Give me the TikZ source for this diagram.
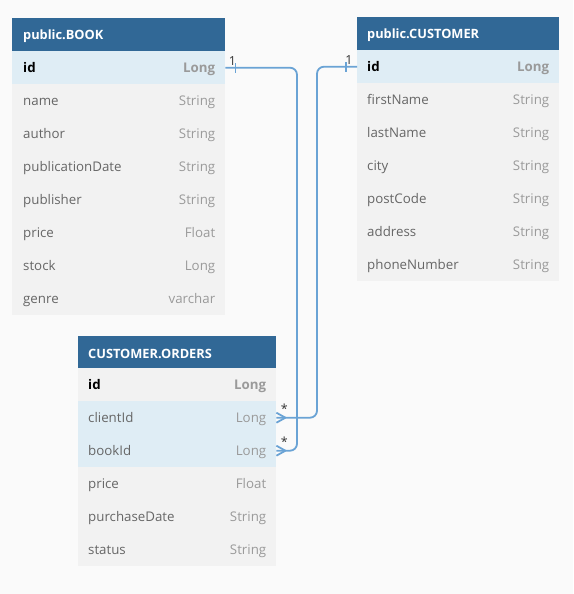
\documentclass[tikz,border=0pt]{standalone}
\usepackage{fontspec}
\setmainfont{Open Sans}
\usetikzlibrary{positioning}
\definecolor{pagebg}{HTML}{FAFAFA}
\definecolor{headblue}{HTML}{316896}
\definecolor{rowgray}{HTML}{F2F2F2}
\definecolor{rowblue}{HTML}{DFEDF5}
\definecolor{namegray}{HTML}{666666}
\definecolor{typegray}{HTML}{9A9A9A}
\definecolor{relblue}{HTML}{6AA3D5}
\tikzset{
	tblhead/.style={rectangle, fill=headblue, minimum height=33pt, inner sep=0pt, anchor=north west},
	tblrow/.style={rectangle, fill=rowgray, minimum height=33pt, inner sep=0pt, anchor=north west},
	keyrow/.style={tblrow, fill=rowblue},
	headtext/.style={anchor=west, inner sep=0pt, yshift=-1.5pt, text=white, font=\fontsize{12.8}{15}\selectfont\bfseries},
	colname/.style={anchor=west, inner sep=0pt, yshift=-1.8pt, text=namegray, text height=9pt, text depth=2.5pt, font=\fontsize{13.3}{16}\selectfont},
	coltype/.style={anchor=east, inner sep=0pt, yshift=-1.8pt, text=typegray, text height=9pt, text depth=2.5pt, font=\fontsize{13.3}{16}\selectfont},
	relline/.style={draw=relblue, line width=1.8pt},
	card/.style={inner sep=0pt, text=black!80, font=\fontsize{12.5}{14}\selectfont}
}
\newcommand{\crowfoot}[1]{\draw[relline] ([xshift=9pt]#1.east) -- ([yshift=-5pt]#1.east) ([xshift=9pt]#1.east) -- ([yshift=5pt]#1.east);}
\begin{document}
\begin{tikzpicture}[x=1pt,y=-1pt]
	\fill[pagebg] (0,0) rectangle (573,594);
	% public.BOOK
	\node[tblhead, minimum width=213pt] (book) at (12,18) {};
	\node[headtext] at ([xshift=11pt]book.west) {public.BOOK};
	\node[keyrow, minimum width=213pt] (book-id) at (12,51) {};
	\node[colname, text=black, font=\fontsize{13.3}{16}\selectfont\bfseries] at ([xshift=11pt]book-id.west) {id};
	\node[coltype, font=\fontsize{13.3}{16}\selectfont\bfseries] at ([xshift=-10pt]book-id.east) {Long};
	\foreach \fname/\ftype [count=\i] in {name/String, author/String, publicationDate/String, publisher/String, price/Float, stock/Long, genre/varchar} {
		\node[tblrow, minimum width=213pt] (book-\fname) at (12,51+33*\i) {};
		\node[colname] at ([xshift=11pt]book-\fname.west) {\fname};
		\node[coltype] at ([xshift=-10pt]book-\fname.east) {\ftype};
	}
	% public.CUSTOMER
	\node[tblhead, minimum width=202pt] (customer) at (357,17) {};
	\node[headtext] at ([xshift=10pt]customer.west) {public.CUSTOMER};
	\node[keyrow, minimum width=202pt] (customer-id) at (357,50) {};
	\node[colname, text=black, font=\fontsize{13.3}{16}\selectfont\bfseries] at ([xshift=10pt]customer-id.west) {id};
	\node[coltype, font=\fontsize{13.3}{16}\selectfont\bfseries] at ([xshift=-10pt]customer-id.east) {Long};
	\foreach \fname/\ftype [count=\i] in {firstName/String, lastName/String, city/String, postCode/String, address/String, phoneNumber/String} {
		\node[tblrow, minimum width=202pt] (customer-\fname) at (357,50+33*\i) {};
		\node[colname] at ([xshift=10pt]customer-\fname.west) {\fname};
		\node[coltype] at ([xshift=-10pt]customer-\fname.east) {\ftype};
	}
	% CUSTOMER.ORDERS
	\node[tblhead, minimum width=198pt, minimum height=32pt] (orders) at (78,336) {};
	\node[headtext] at ([xshift=10pt]orders.west) {CUSTOMER.ORDERS};
	\node[tblrow, minimum width=198pt] (orders-id) at (78,368) {};
	\node[colname, text=black, font=\fontsize{13.3}{16}\selectfont\bfseries] at ([xshift=10pt]orders-id.west) {id};
	\node[coltype, font=\fontsize{13.3}{16}\selectfont\bfseries] at ([xshift=-10pt]orders-id.east) {Long};
	\foreach \fname/\ftype/\rowstyle [count=\i] in {clientId/Long/keyrow, bookId/Long/keyrow, price/Float/tblrow, purchaseDate/String/tblrow, status/String/tblrow} {
		\node[\rowstyle, minimum width=198pt] (orders-\fname) at (78,368+33*\i) {};
		\node[colname] at ([xshift=10pt]orders-\fname.west) {\fname};
		\node[coltype] at ([xshift=-10pt]orders-\fname.east) {\ftype};
	}
	% relations
	\coordinate (bookbend) at (297,300);
	\coordinate (customerbend) at (317,300);
	\draw[relline, rounded corners=7pt] (book-id.east) -| (bookbend) |- (orders-bookId.east);
	\draw[relline, rounded corners=7pt] (customer-id.west) -| (customerbend) |- (orders-clientId.east);
	\draw[relline] ([xshift=10pt,yshift=-5pt]book-id.east) -- ([xshift=10pt,yshift=5pt]book-id.east);
	\draw[relline] ([xshift=-11pt,yshift=-5pt]customer-id.west) -- ([xshift=-11pt,yshift=5pt]customer-id.west);
	\crowfoot{orders-clientId}
	\crowfoot{orders-bookId}
	\node[card] at ([xshift=7pt,yshift=7pt]book-id.east) {1};
	\node[card] at ([xshift=-8pt,yshift=7pt]customer-id.west) {1};
	\node[card] at ([xshift=8pt,yshift=9pt]orders-clientId.east) {*};
	\node[card] at ([xshift=8pt,yshift=9pt]orders-bookId.east) {*};
\end{tikzpicture}
\end{document}
